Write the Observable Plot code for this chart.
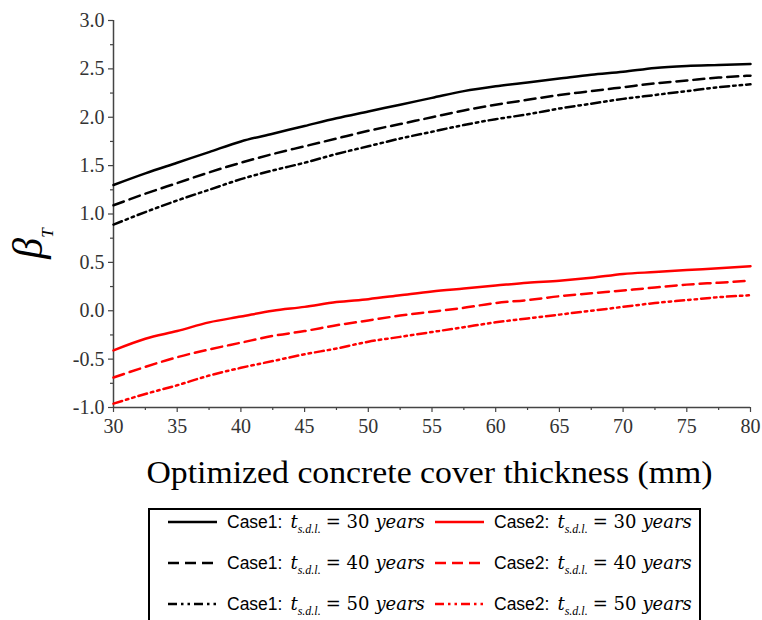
<!DOCTYPE html>
<html><head><meta charset="utf-8">
<script src="https://cdn.jsdelivr.net/npm/d3@7"></script>
<script src="https://cdn.jsdelivr.net/npm/@observablehq/plot@0.6"></script>
<style>
body{margin:0;background:#fff;}
#chart{width:762px;height:620px;overflow:hidden;background:#fff;}
#chart svg{display:block;}
#chart svg text{font-family:"Liberation Serif","Times New Roman",serif;}
#chart svg g[aria-label$="tick label"], #chart svg g[aria-label$="tick label"] text{font-family:"Liberation Serif",serif !important;font-size:20px !important;font-variant:normal !important;}
</style></head><body><div id="chart"></div>
<script>
// ---- data ----
const thickness = [30,32.5,35,37.5,40,42.5,45,47.5,50,52.5,55,57.5,60,62.5,65,67.5,70,72.5,75,77.5,80];
const case1_30 = [1.30,1.42,1.53,1.64,1.75,1.83,1.91,1.99,2.06,2.13,2.20,2.27,2.32,2.36,2.40,2.44,2.47,2.51,2.53,2.54,2.55];
const case1_40 = [1.09,1.21,1.32,1.43,1.53,1.62,1.70,1.78,1.86,1.93,2.00,2.07,2.13,2.18,2.23,2.27,2.31,2.35,2.38,2.41,2.43];
const case1_50 = [0.89,1.02,1.14,1.25,1.36,1.45,1.53,1.62,1.70,1.78,1.85,1.92,1.98,2.03,2.09,2.14,2.19,2.23,2.27,2.31,2.34];
const case2_30 = [-0.41,-0.29,-0.21,-0.12,-0.06,0.00,0.04,0.09,0.12,0.16,0.20,0.23,0.26,0.29,0.31,0.34,0.38,0.40,0.42,0.44,0.46];
const case2_40 = [-0.69,-0.58,-0.48,-0.40,-0.33,-0.26,-0.21,-0.15,-0.10,-0.05,-0.01,0.03,0.08,0.11,0.15,0.18,0.21,0.24,0.27,0.29,0.31];
const case2_50 = [-0.96,-0.86,-0.77,-0.67,-0.59,-0.52,-0.45,-0.39,-0.32,-0.27,-0.22,-0.17,-0.12,-0.08,-0.04,0.00,0.04,0.08,0.11,0.14,0.16];
const caseNames = ["Case1","Case2"];
const designLives = [30,40,50];
const yTicks = [-1,-0.5,0,0.5,1,1.5,2,2.5,3];
const yMinor = [-0.75,-0.25,0.25,0.75,1.25,1.75,2.25,2.75];
const xTicks = [30,35,40,45,50,55,60,65,70,75,80];
const xMinor = [32.5,37.5,42.5,47.5,52.5,57.5,62.5,67.5,72.5,77.5];
const xTitle = "Optimized concrete cover thickness (mm)";

// ---- styles ----
const serif = "'Liberation Serif', 'Times New Roman', serif";
const caseColor = {Case1:"#000000", Case2:"#ff0000"};
const lifeDash = {30:null, 40:"11,6", 50:"9,4,2.5,4,2.5,4"};
const seriesValues = {Case1:{30:case1_30,40:case1_40,50:case1_50}, Case2:{30:case2_30,40:case2_40,50:case2_50}};

const series = [];
for (const c of caseNames) for (const l of designLives) {
  series.push({c, l, rows: thickness.map((t,i)=>({t, b: seriesValues[c][l][i]}))});
}

const axisColor = "#444";
const plot = Plot.plot({
  width: 762, height: 500,
  marginLeft: 113, marginRight: 12, marginTop: 20, marginBottom: 93,
  x: {domain:[30,80]},
  y: {domain:[-1,3]},
  style: {fontFamily: serif, background:"white", color:"#333"},
  marks: [
    Plot.axisY({ticks: yTicks, tickSize:5, tickPadding:4, tickFormat: d=>d.toFixed(1), fontSize:20, fill:"#333", label:null, stroke:axisColor, strokeWidth:1.2}),
    Plot.axisY({ticks: yMinor, tickSize:3, tickFormat: ()=>"", label:null, stroke:axisColor, strokeWidth:1.2}),
    Plot.axisX({ticks: xTicks, tickSize:5, tickPadding:6, tickFormat: d=>String(d), fontSize:20, fill:"#333", label:null, stroke:axisColor, strokeWidth:1.2}),
    Plot.axisX({ticks: xMinor, tickSize:3, tickFormat: ()=>"", label:null, stroke:axisColor, strokeWidth:1.2}),
    Plot.ruleX([30], {stroke:axisColor, strokeWidth:1.5}),
    Plot.ruleY([-1], {stroke:axisColor, strokeWidth:1.5}),
    ...series.map(s => Plot.line(s.rows, {x:"t", y:"b", stroke: caseColor[s.c], strokeWidth: 2.5, strokeDasharray: lifeDash[s.l] || undefined, curve:"monotone-x"}))
  ]
});

const svg = d3.select(plot);
svg.attr("font-family", null);
svg.selectAll("g").attr("font-family", null);
svg.selectAll("text").style("font-family", serif);
const xr = plot.scale("x").range, yr = plot.scale("y").range;
// x-axis title
svg.append("text")
  .attr("x", (xr[0]+xr[1])/2 - 2).attr("y", 483)
  .attr("text-anchor","middle")
  .attr("textLength", 566).attr("lengthAdjust","spacingAndGlyphs")
  .style("font-family", serif).style("font-size","32px").attr("fill","#000")
  .text(xTitle);
// y-axis title  β_T
const yt = svg.append("text")
  .attr("transform", `translate(42,${(yr[0]+yr[1])/2 + 30}) rotate(-90)`)
  .attr("text-anchor","middle")
  .style("font-family", serif).style("font-style","italic").attr("fill","#000");
yt.append("tspan").style("font-size","42px").text("β");
yt.append("tspan").style("font-size","17px").attr("dy", 11).text("T");

document.getElementById("chart").appendChild(plot);

// ---- legend (below the plot SVG) ----
const leg = d3.select("#chart").append("svg").attr("width",762).attr("height",120);
leg.append("rect").attr("x",149).attr("y",9).attr("width",551).attr("height",140)
  .attr("fill","none").attr("stroke","#000").attr("stroke-width",2);
designLives.forEach((l, r) => {
  const cy = 22 + r*41;
  caseNames.forEach((c, k) => {
    const x0 = k === 0 ? 168 : 435;
    leg.append("line").attr("x1",x0).attr("x2",x0+49).attr("y1",cy).attr("y2",cy)
      .attr("stroke",caseColor[c]).attr("stroke-width",2.4).attr("stroke-dasharray",lifeDash[l]);
    const t = leg.append("text").attr("x", x0+59).attr("y", cy+6).attr("fill","#000");
    t.append("tspan").style("font-family","'Liberation Sans',sans-serif").style("font-size","17.5px").text(c+":");
    t.append("tspan").attr("dx",8).style("font-family","'DejaVu Serif',serif").style("font-style","italic").style("font-size","18px").text("t");
    t.append("tspan").style("font-family", serif).style("font-style","italic").style("font-size","12px").attr("dy",5).text("s.d.l.");
    t.append("tspan").style("font-family","'DejaVu Serif',serif").style("font-size","18px").attr("dy",-5).attr("dx",5).text("= " + l);
    t.append("tspan").style("font-family","'DejaVu Serif',serif").style("font-style","italic").style("font-size","18px").attr("dx",6).text("years");
  });
});
</script></body></html>
